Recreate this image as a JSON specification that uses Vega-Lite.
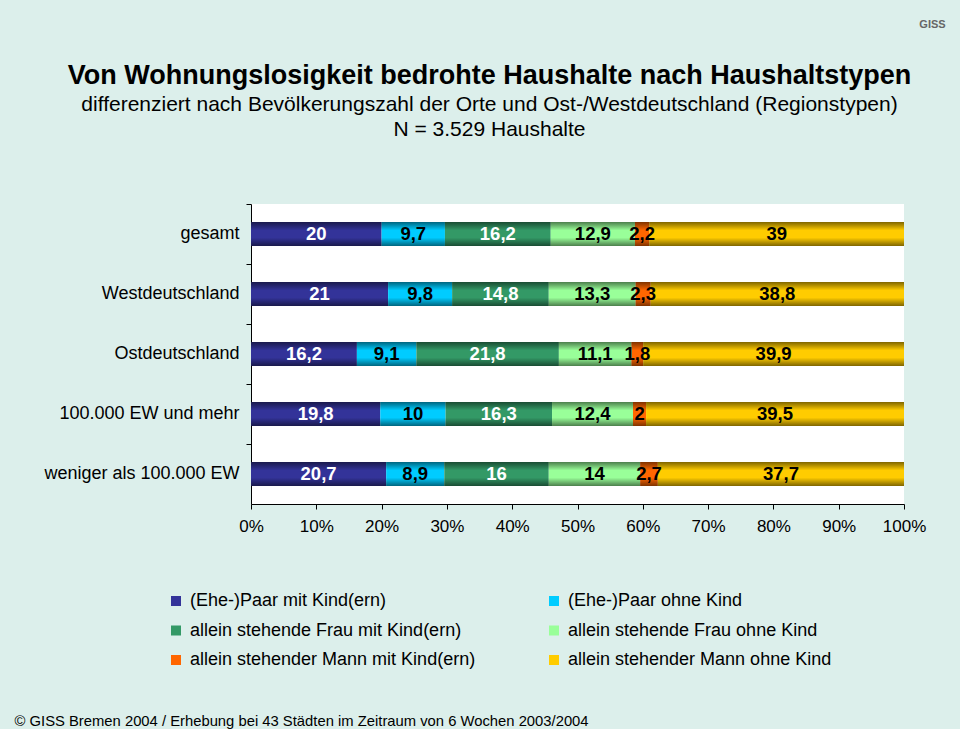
{
  "$schema": "https://vega.github.io/schema/vega-lite/v6.json",
  "width": 653,
  "height": 300,
  "autosize": {"type": "none"},
  "padding": {"left": 251, "top": 204, "right": 56, "bottom": 225},
  "background": "#dcefeb",
  "config": {
    "font": "Liberation Sans",
    "locale": {"number": {"decimal": ",", "thousands": ".", "grouping": [3], "currency": ["", " €"]}},
    "view": {"fill": "white", "stroke": null},
    "legend": {
      "orient": "none",
      "legendX": -84,
      "legendY": 388,
      "columns": 2,
      "title": null,
      "symbolType": "square",
      "symbolSize": 100,
      "symbolStrokeWidth": 0,
      "labelFontSize": 18,
      "labelColor": "black",
      "labelOffset": 5,
      "columnPadding": 69,
      "rowPadding": 11.5,
      "labelLimit": 500
    }
  },
  "title": {
    "text": "Von Wohnungslosigkeit bedrohte Haushalte nach Haushaltstypen",
    "subtitle": ["differenziert nach Bevölkerungszahl der Orte und Ost-/Westdeutschland (Regionstypen)", "N = 3.529 Haushalte"],
    "anchor": "middle",
    "frame": "group",
    "dx": -88,
    "offset": -123,
    "fontSize": 27,
    "fontWeight": "bold",
    "color": "black",
    "subtitleFontSize": 21,
    "subtitleColor": "black",
    "subtitlePadding": 4,
    "subtitleLineHeight": 25
  },
  "data": {
    "values": [
      {"region": "gesamt", "typ": "(Ehe-)Paar mit Kind(ern)", "wert": 20},
      {"region": "gesamt", "typ": "(Ehe-)Paar ohne Kind", "wert": 9.7},
      {"region": "gesamt", "typ": "allein stehende Frau mit Kind(ern)", "wert": 16.2},
      {"region": "gesamt", "typ": "allein stehende Frau ohne Kind", "wert": 12.9},
      {"region": "gesamt", "typ": "allein stehender Mann mit Kind(ern)", "wert": 2.2},
      {"region": "gesamt", "typ": "allein stehender Mann ohne Kind", "wert": 39},
      {"region": "Westdeutschland", "typ": "(Ehe-)Paar mit Kind(ern)", "wert": 21},
      {"region": "Westdeutschland", "typ": "(Ehe-)Paar ohne Kind", "wert": 9.8},
      {"region": "Westdeutschland", "typ": "allein stehende Frau mit Kind(ern)", "wert": 14.8},
      {"region": "Westdeutschland", "typ": "allein stehende Frau ohne Kind", "wert": 13.3},
      {"region": "Westdeutschland", "typ": "allein stehender Mann mit Kind(ern)", "wert": 2.3},
      {"region": "Westdeutschland", "typ": "allein stehender Mann ohne Kind", "wert": 38.8},
      {"region": "Ostdeutschland", "typ": "(Ehe-)Paar mit Kind(ern)", "wert": 16.2},
      {"region": "Ostdeutschland", "typ": "(Ehe-)Paar ohne Kind", "wert": 9.1},
      {"region": "Ostdeutschland", "typ": "allein stehende Frau mit Kind(ern)", "wert": 21.8},
      {"region": "Ostdeutschland", "typ": "allein stehende Frau ohne Kind", "wert": 11.1},
      {"region": "Ostdeutschland", "typ": "allein stehender Mann mit Kind(ern)", "wert": 1.8},
      {"region": "Ostdeutschland", "typ": "allein stehender Mann ohne Kind", "wert": 39.9},
      {"region": "100.000 EW und mehr", "typ": "(Ehe-)Paar mit Kind(ern)", "wert": 19.8},
      {"region": "100.000 EW und mehr", "typ": "(Ehe-)Paar ohne Kind", "wert": 10},
      {"region": "100.000 EW und mehr", "typ": "allein stehende Frau mit Kind(ern)", "wert": 16.3},
      {"region": "100.000 EW und mehr", "typ": "allein stehende Frau ohne Kind", "wert": 12.4},
      {"region": "100.000 EW und mehr", "typ": "allein stehender Mann mit Kind(ern)", "wert": 2},
      {"region": "100.000 EW und mehr", "typ": "allein stehender Mann ohne Kind", "wert": 39.5},
      {"region": "weniger als 100.000 EW", "typ": "(Ehe-)Paar mit Kind(ern)", "wert": 20.7},
      {"region": "weniger als 100.000 EW", "typ": "(Ehe-)Paar ohne Kind", "wert": 8.9},
      {"region": "weniger als 100.000 EW", "typ": "allein stehende Frau mit Kind(ern)", "wert": 16},
      {"region": "weniger als 100.000 EW", "typ": "allein stehende Frau ohne Kind", "wert": 14},
      {"region": "weniger als 100.000 EW", "typ": "allein stehender Mann mit Kind(ern)", "wert": 2.7},
      {"region": "weniger als 100.000 EW", "typ": "allein stehender Mann ohne Kind", "wert": 37.7}
    ]
  },
  "encoding": {
    "y": {
      "field": "region",
      "type": "nominal",
      "sort": ["gesamt", "Westdeutschland", "Ostdeutschland", "100.000 EW und mehr", "weniger als 100.000 EW"],
      "scale": {"paddingInner": 0.6, "paddingOuter": 0.3},
      "axis": {
        "title": "GISS",
        "titleX": 681,
        "titleY": -180,
        "titleAngle": 0,
        "titleAlign": "center",
        "titleBaseline": "middle",
        "titleFontSize": 11,
        "titleFontWeight": "bold",
        "titleColor": "#666666",
        "bandPosition": -0.75,
        "labelFontSize": 18,
        "labelLimit": 300,
        "labelColor": "black",
        "labelPadding": 7,
        "tickSize": 5,
        "tickColor": "black",
        "domainColor": "black",
        "grid": false
      }
    },
    "x": {
      "field": "wert",
      "type": "quantitative",
      "stack": "normalize",
      "axis": {
        "values": [0, 0.1, 0.2, 0.3, 0.4, 0.5, 0.6, 0.7, 0.8, 0.9, 1],
        "format": ".0%",
        "labelFontSize": 17,
        "labelColor": "black",
        "labelPadding": 9,
        "labelFlush": false,
        "tickSize": 5,
        "tickColor": "black",
        "domainColor": "black",
        "grid": false,
        "title": "© GISS Bremen 2004 / Erhebung bei 43 Städten im Zeitraum von 6 Wochen 2003/2004",
        "titleX": -237,
        "titleY": 221,
        "titleAlign": "left",
        "titleBaseline": "alphabetic",
        "titleFontSize": 14.8,
        "titleFontWeight": "normal",
        "titleColor": "black"
      }
    },
    "order": {"field": "typ", "type": "nominal", "sort": "ascending"}
  },
  "layer": [
    {
      "mark": {"type": "bar"},
      "encoding": {
        "color": {
          "field": "typ",
          "type": "nominal",
          "scale": {
            "domain": ["(Ehe-)Paar mit Kind(ern)", "allein stehende Frau mit Kind(ern)", "allein stehender Mann mit Kind(ern)", "(Ehe-)Paar ohne Kind", "allein stehende Frau ohne Kind", "allein stehender Mann ohne Kind"],
            "range": ["#333399", "#339966", "#ff6600", "#00ccff", "#99ff99", "#ffcc00"]
          }
        }
      }
    },
    {
      "mark": {
        "type": "bar",
        "fill": {
          "gradient": "linear",
          "x1": 0, "y1": 0, "x2": 0, "y2": 1,
          "stops": [
            {"offset": 0, "color": "rgba(0,0,0,0.5)"},
            {"offset": 0.35, "color": "rgba(0,0,0,0)"},
            {"offset": 0.65, "color": "rgba(0,0,0,0)"},
            {"offset": 1, "color": "rgba(0,0,0,0.5)"}
          ]
        }
      },
      "encoding": {"detail": {"field": "typ"}}
    },
    {
      "mark": {"type": "text", "fontWeight": "bold", "fontSize": 18.5, "baseline": "middle"},
      "encoding": {
        "x": {"field": "wert", "type": "quantitative", "stack": "normalize", "bandPosition": 0.5},
        "detail": {"field": "typ"},
        "text": {"field": "wert", "type": "quantitative", "format": "~g"},
        "color": {
          "condition": {"test": "datum.typ === '(Ehe-)Paar mit Kind(ern)' || datum.typ === 'allein stehende Frau mit Kind(ern)'", "value": "white"},
          "value": "black"
        }
      }
    }
  ]
}
